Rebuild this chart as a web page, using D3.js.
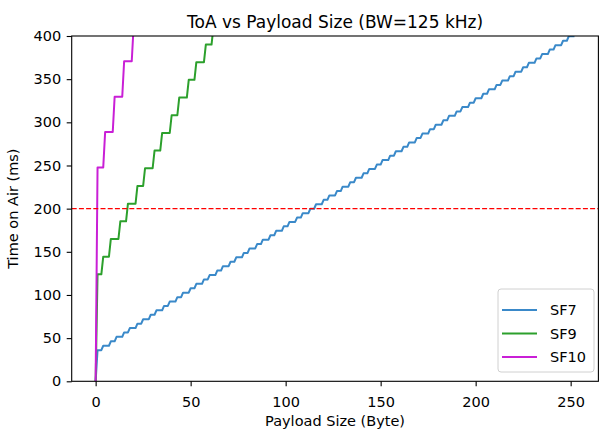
<!DOCTYPE html>
<html>
<head>
<meta charset="utf-8">
<script src="https://cdn.jsdelivr.net/npm/d3@7"></script>
<style>
  body { margin: 0; background: #fff; }
  svg { display: block; font-family: "DejaVu Sans", sans-serif; }
</style>
</head>
<body>
<svg id="chart" width="601" height="432"></svg>
<script>
// Payload size (byte) where each ToA step starts, and the ToA (ms) of that step
const sf7Start = [0, 1, 4, 8, 11, 15, 18, 22, 25, 29, 32, 36, 39, 43, 46, 50, 53, 57, 60, 64, 67,
  71, 74, 78, 81, 85, 88, 92, 95, 99, 102, 106, 109, 113, 116, 120, 123, 127, 130, 134, 137,
  141, 144, 148, 151, 155, 158, 162, 165, 169, 172, 176, 179, 183, 186, 190, 193, 197, 200, 204, 207,
  211, 214, 218, 221, 225, 228, 232, 235, 239, 242, 246, 249];
const sf7Toa = [0, 36.1, 41.2, 46.3, 51.5, 56.6, 61.7, 66.8, 71.9, 77.1, 82.2, 87.3, 92.4, 97.5, 102.7,
  107.8, 112.9, 118.0, 123.1, 128.3, 133.4, 138.5, 143.6, 148.7, 153.9, 159.0, 164.1, 169.2, 174.3,
  179.5, 184.6, 189.7, 194.8, 199.9, 205.1, 210.2, 215.3, 220.4, 225.5, 230.7, 235.8, 240.9, 246.0,
  251.1, 256.3, 261.4, 266.5, 271.6, 276.7, 281.9, 287.0, 292.1, 297.2, 302.3, 307.5, 312.6, 317.7,
  322.8, 327.9, 333.1, 338.2, 343.3, 348.4, 353.5, 358.7, 363.8, 368.9, 374.0, 379.1, 384.3, 389.4,
  394.5, 399.6];

const sf9Start = [0, 1, 4, 8, 13, 17, 22, 26, 31, 35, 40, 44, 49, 53, 58, 62];
const sf9Toa = [0, 123.9, 144.4, 164.9, 185.3, 205.8, 226.3, 246.8, 267.3, 287.7, 308.2, 328.7,
  349.2, 369.7, 390.1, 410.6];

const sf10Start = [0, 1, 5, 10, 15, 20];
const sf10Toa = [0, 247.8, 288.8, 329.7, 370.7, 411.6];

const maxPayload = 252;   // last payload size in the data
const toaLimit = 200;     // red dashed reference
const yMax = 400;

const seriesNames = ["SF7", "SF9", "SF10"];
const seriesColors = ["#3a89c9", "#2ca02c", "#c91fd6"];
const xTicks = [0, 50, 100, 150, 200, 250];
const yTicks = [0, 50, 100, 150, 200, 250, 300, 350, 400];

const svg = d3.select("#chart");
const plotLeft = 71.7, plotRight = 598.4, plotTop = 36, plotBottom = 381.3;

// x domain with matplotlib style 5% padding
const pad = maxPayload * 0.05;
const x = d3.scaleLinear().domain([-pad, maxPayload + pad]).range([plotLeft, plotRight]);
const y = d3.scaleLinear().domain([0, yMax]).range([plotBottom, plotTop]);

// Step line: flat over the bytes of one level, then rises to the next byte
function stepPoints(starts, toa) {
  const pts = [];
  starts.forEach((s, i) => {
    const end = i < starts.length - 1 ? starts[i + 1] - 1 : maxPayload;
    pts.push([s, toa[i]]);
    if (end > s) pts.push([end, toa[i]]);
  });
  return pts;
}

const series = [
  stepPoints(sf7Start, sf7Toa),
  stepPoints(sf9Start, sf9Toa),
  stepPoints(sf10Start, sf10Toa)
];

svg.append("clipPath").attr("id", "plot-clip")
  .append("rect")
  .attr("x", plotLeft).attr("y", plotTop)
  .attr("width", plotRight - plotLeft).attr("height", plotBottom - plotTop);

const line = d3.line().x(d => x(d[0])).y(d => y(d[1]));

const plot = svg.append("g").attr("clip-path", "url(#plot-clip)");

plot.selectAll(".series")
  .data(series)
  .enter()
  .append("path")
  .attr("class", "series")
  .attr("d", line)
  .attr("fill", "none")
  .attr("stroke", (d, i) => seriesColors[i])
  .attr("stroke-width", 2)
  .attr("stroke-linejoin", "round");

// Horizontal limit line
plot.append("line")
  .attr("x1", plotLeft).attr("x2", plotRight)
  .attr("y1", y(toaLimit)).attr("y2", y(toaLimit))
  .attr("stroke", "#ff0000")
  .attr("stroke-width", 1.3)
  .attr("stroke-dasharray", "5,2.2");

// Axes
const xAxis = svg.append("g")
  .attr("transform", `translate(0,${plotBottom})`)
  .call(d3.axisBottom(x).tickValues(xTicks).tickSize(5).tickPadding(10).tickSizeOuter(0));

const yAxis = svg.append("g")
  .attr("transform", `translate(${plotLeft},0)`)
  .call(d3.axisLeft(y).tickValues(yTicks).tickSize(5).tickPadding(5.5).tickSizeOuter(0));

[xAxis, yAxis].forEach(g => {
  g.select(".domain").remove();
  g.attr("font-family", "DejaVu Sans, sans-serif").attr("font-size", 14.5);
  g.selectAll(".tick line").attr("stroke", "#000").attr("stroke-width", 1.1);
  g.selectAll(".tick text").attr("fill", "#000");
});

// Frame
svg.append("rect")
  .attr("x", plotLeft).attr("y", plotTop)
  .attr("width", plotRight - plotLeft).attr("height", plotBottom - plotTop)
  .attr("fill", "none")
  .attr("stroke", "#000")
  .attr("stroke-width", 1.1);

// Title and labels
svg.append("text")
  .attr("x", (plotLeft + plotRight) / 2).attr("y", 28)
  .attr("text-anchor", "middle")
  .attr("font-size", 17)
  .text("ToA vs Payload Size (BW=125 kHz)");

svg.append("text")
  .attr("x", (plotLeft + plotRight) / 2).attr("y", 426)
  .attr("text-anchor", "middle")
  .attr("font-size", 14.5)
  .text("Payload Size (Byte)");

svg.append("text")
  .attr("transform", `translate(18,${(plotTop + plotBottom) / 2}) rotate(-90)`)
  .attr("text-anchor", "middle")
  .attr("font-size", 14.5)
  .text("Time on Air (ms)");

// Legend (lower right)
const legend = svg.append("g");
legend.append("rect")
  .attr("x", 498).attr("y", 289)
  .attr("width", 96).attr("height", 83)
  .attr("rx", 3)
  .attr("fill", "#fff").attr("fill-opacity", 0.8)
  .attr("stroke", "#d0d0d0");

const items = legend.selectAll(".item")
  .data(seriesNames)
  .enter()
  .append("g")
  .attr("class", "item")
  .attr("transform", (d, i) => `translate(0,${310 + i * 23.5})`);

items.append("line")
  .attr("x1", 502).attr("x2", 537)
  .attr("stroke", (d, i) => seriesColors[i])
  .attr("stroke-width", 2);

items.append("text")
  .attr("x", 550).attr("dy", "0.35em")
  .attr("font-size", 14.5)
  .text(d => d);
</script>
</body>
</html>
